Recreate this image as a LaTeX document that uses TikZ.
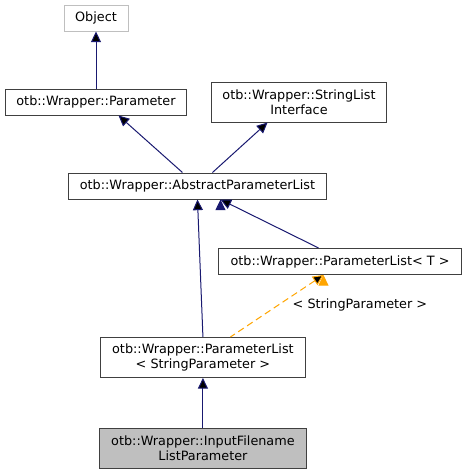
\documentclass[tikz,border=0pt]{standalone}
\usepackage{fontspec}
\setmainfont{DejaVu Sans}
\usetikzlibrary{arrows.meta,positioning}

\definecolor{edgeblue}{RGB}{25,25,112}
\definecolor{boxgray}{RGB}{64,64,64}
\definecolor{lightgray}{RGB}{191,191,191}
\definecolor{tmplorange}{RGB}{255,165,0}

\tikzset{
  cls/.style={draw=boxgray, line width=0.75pt, inner sep=0pt, align=center,
    minimum height=19.5pt, font=\fontsize{9.6}{11}\selectfont},
  cls2/.style={cls, minimum height=30pt},
  inherit/.style={<-, >={Triangle[length=8pt,width=7.5pt]}, draw=edgeblue, line width=0.75pt},
  tmpl/.style={inherit, draw=tmplorange, dash pattern=on 5pt off 3pt}
}

\begin{document}
\begin{tikzpicture}[on grid, every edge/.style={draw}]
\useasboundingbox (0,0) rectangle (350.25pt,-356.25pt);
\node[cls, draw=lightgray, minimum width=48pt] (obj) at (72pt,-13.5pt) {Object};
\node[cls, minimum width=135.75pt] (param) [below=63pt of obj] {otb::Wrapper::Parameter};
\node[cls2, minimum width=131.25pt] (strlist) [right=152.25pt of param] {otb::Wrapper::StringList\\Interface};
\node[cls, minimum width=193.5pt] (abstract) [below right=63pt and 76.1pt of param] {otb::Wrapper::AbstractParameterList};
\node[cls, minimum width=182.25pt] (pltmpl) [below right=56.6pt and 106.9pt of abstract] {otb::Wrapper::ParameterList< T >};
\node[cls2, minimum width=153.75pt] (plstr) [below right=128.6pt and 4.1pt of abstract] {otb::Wrapper::ParameterList\\< StringParameter >};
\node[cls2, fill=lightgray, minimum width=155.25pt] (input) [below=67.9pt of plstr] {otb::Wrapper::InputFilename\\ListParameter};

\path[inherit]
(obj) edge (param)
([xshift=16.9pt]param.south) edge ([xshift=-11.25pt]abstract.north)
([xshift=-23.6pt]strlist.south) edge ([xshift=11.25pt]abstract.north)
(abstract.south) edge (plstr.north)
([xshift=17.25pt]abstract.south) edge ([xshift=-16.1pt]pltmpl.north)
(plstr) edge (input);
\path[tmpl]
([xshift=-12.4pt]pltmpl.south) edge node[pos=0.48, right=6.75pt, font=\fontsize{9.6}{11}\selectfont] {< StringParameter >} ([xshift=20.6pt]plstr.north);
\end{tikzpicture}
\end{document}
